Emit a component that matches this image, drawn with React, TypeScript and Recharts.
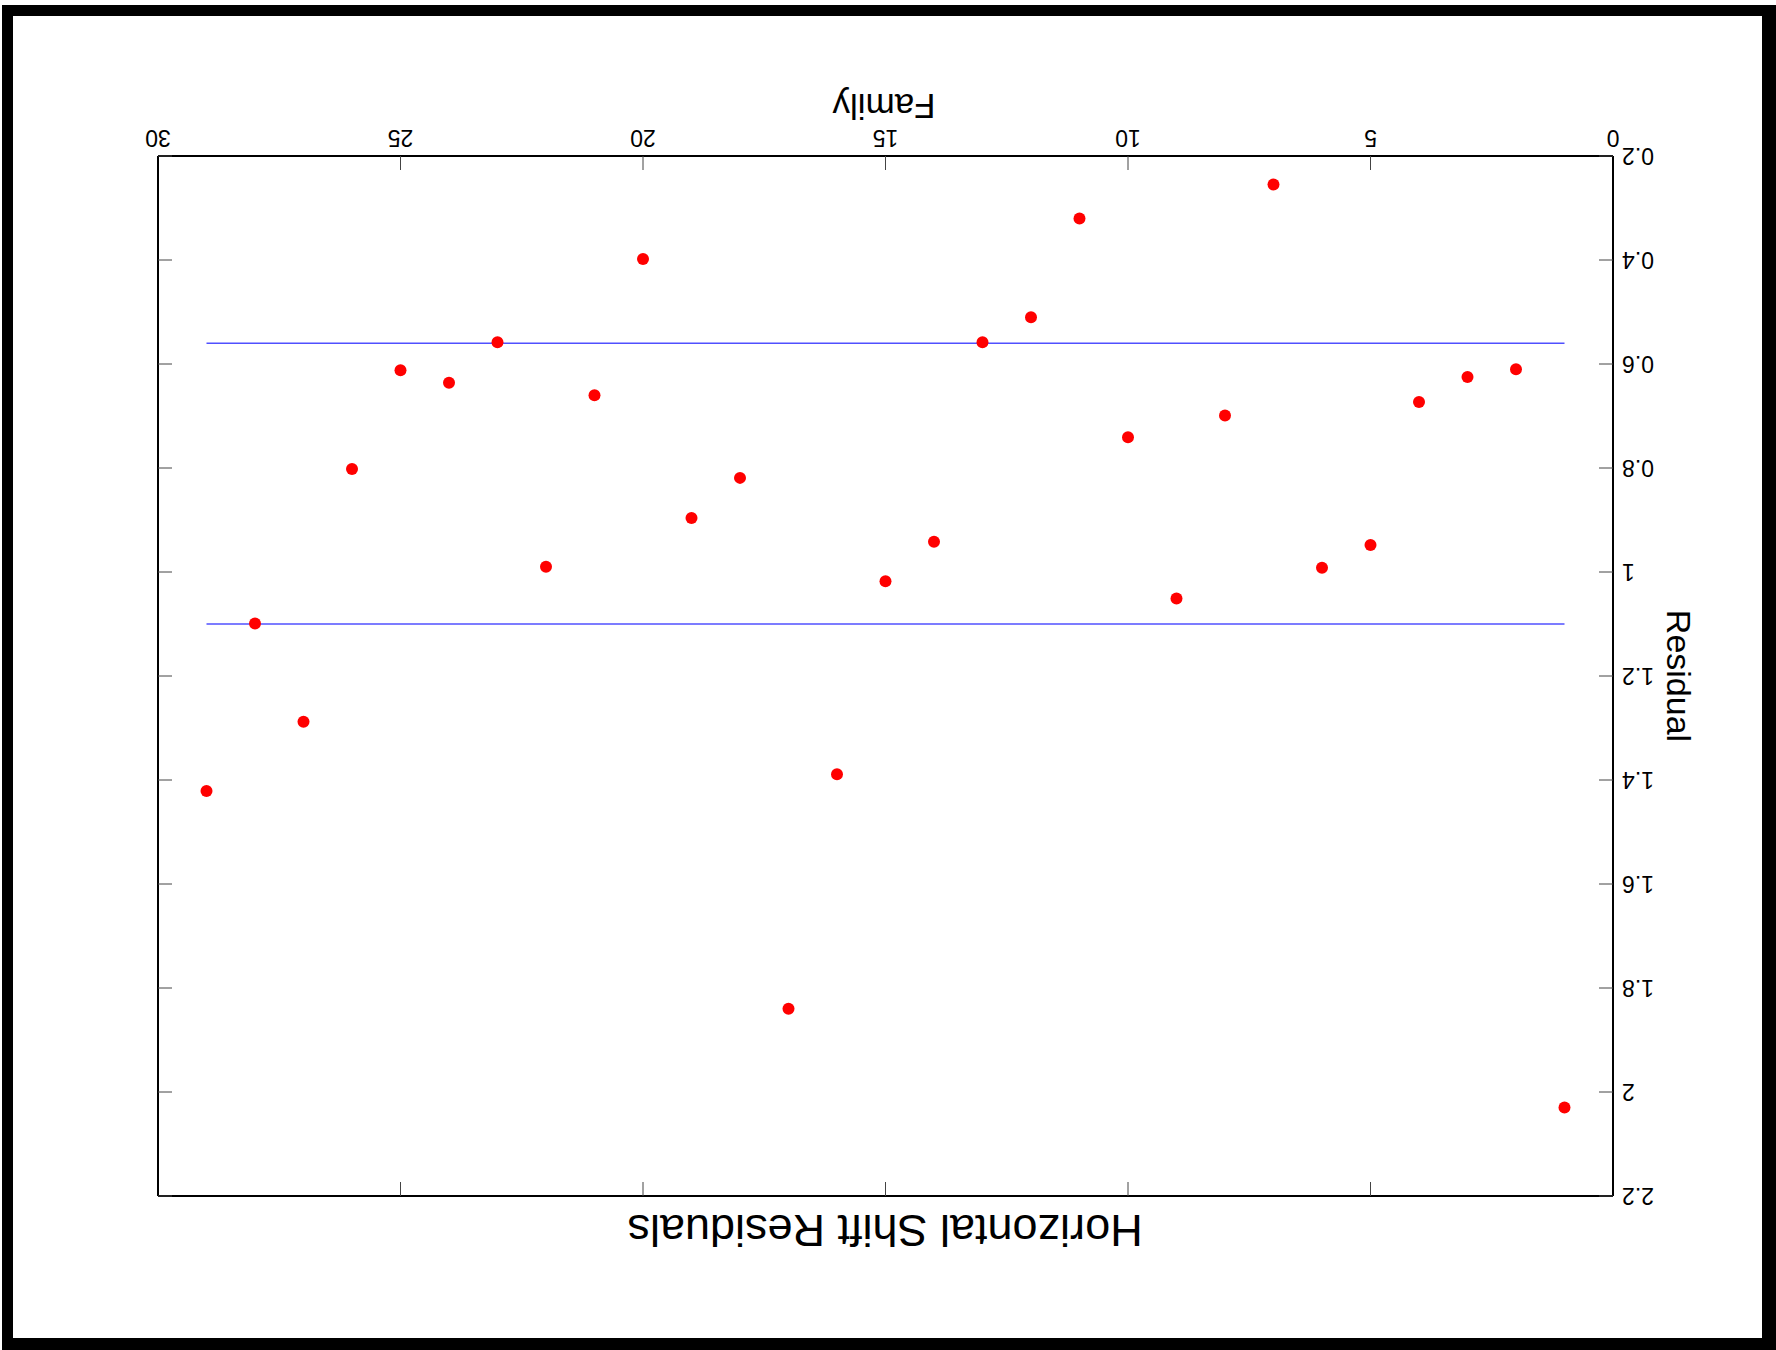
import { ScatterChart, Scatter, XAxis, YAxis, ReferenceLine } from 'recharts';

const familyIds = [
  1, 2, 3, 4, 5, 6, 7, 8, 9, 10, 11, 12, 13, 14, 15, 16, 17, 18, 19, 20, 21, 22, 23, 24, 25, 26, 27, 28, 29,
];
const residuals = [
  2.03, 0.61, 0.625, 0.673, 0.948, 0.992, 0.255, 0.699, 1.051, 0.741, 0.32, 0.51, 0.558, 0.942, 1.018,
  1.389, 1.84, 0.819, 0.896, 0.398, 0.66, 0.99, 0.558, 0.636, 0.612, 0.802, 1.288, 1.099, 1.421,
];
const xTicks = [0, 5, 10, 15, 20, 25, 30];
const yTicks = [0.2, 0.4, 0.6, 0.8, 1, 1.2, 1.4, 1.6, 1.8, 2, 2.2];
const limitLevels = [0.56, 1.1];
const limitRange = [1, 29];

const FONT = '"Liberation Sans", Arial, Helvetica, sans-serif';
const AXIS_LINE = { stroke: '#000', strokeWidth: 2 };
const TICK_LINE = { stroke: '#444', strokeWidth: 1 };
const TICK_STYLE = { fill: '#000', fontSize: 23, fontFamily: FONT };

const points = familyIds.map((f, i) => ({ family: f, residual: residuals[i] }));

const fmt = (v: number) => String(Number(v.toFixed(1)));
const noLabel = () => <g />;

export default function App() {
  return (
    <div
      style={{
        position: 'absolute',
        left: 0,
        top: 0,
        width: 1776,
        height: 1350,
        background: '#fff',
        transform: 'rotate(180deg)',
        fontFamily: FONT,
      }}
    >
      <div
        style={{
          position: 'absolute',
          left: 0,
          top: 0,
          width: 1774,
          height: 1345,
          boxSizing: 'border-box',
          borderStyle: 'solid',
          borderColor: '#000',
          borderLeftWidth: 14,
          borderRightWidth: 11,
          borderTopWidth: 12,
          borderBottomWidth: 11,
        }}
      />
      <div style={{ position: 'absolute', left: 0, top: 0 }}>
        <ScatterChart width={1776} height={1350} margin={{ top: 153, right: 157, left: 103, bottom: 116 }}>
          <XAxis
            dataKey="family"
            type="number"
            domain={[0, 30]}
            ticks={xTicks}
            height={40}
            tickSize={-14}
            tickMargin={24}
            axisLine={AXIS_LINE}
            tickLine={TICK_LINE}
            tick={TICK_STYLE}
            interval={0}
          />
          <XAxis
            xAxisId="top"
            dataKey="family"
            orientation="top"
            type="number"
            domain={[0, 30]}
            ticks={xTicks}
            height={1}
            tickSize={-14}
            axisLine={AXIS_LINE}
            tickLine={TICK_LINE}
            tick={noLabel}
            interval={0}
          />
          <YAxis
            dataKey="residual"
            type="number"
            domain={[0.2, 2.2]}
            ticks={yTicks}
            width={60}
            tickSize={-14}
            tickMargin={23}
            axisLine={AXIS_LINE}
            tickLine={TICK_LINE}
            tick={TICK_STYLE}
            tickFormatter={fmt}
            interval={0}
          />
          <YAxis
            yAxisId="right"
            dataKey="residual"
            orientation="right"
            type="number"
            domain={[0.2, 2.2]}
            ticks={yTicks}
            width={1}
            tickSize={-14}
            axisLine={AXIS_LINE}
            tickLine={TICK_LINE}
            tick={noLabel}
            interval={0}
          />
          {limitLevels.map((lv) => (
            <ReferenceLine
              key={lv}
              segment={[
                { x: limitRange[0], y: lv },
                { x: limitRange[1], y: lv },
              ]}
              stroke="#5050ff"
              strokeWidth={1.5}
            />
          ))}
          {/* invisible copy so the mirrored frame axes get drawn */}
          <Scatter
            data={points}
            xAxisId="top"
            yAxisId="right"
            isAnimationActive={false}
            shape={() => <g />}
          />
          <Scatter
            data={points}
            isAnimationActive={false}
            shape={(p: any) => <circle cx={p.cx} cy={p.cy} r={6} fill="#ff0000" />}
          />
        </ScatterChart>
      </div>
      <div
        style={{
          position: 'absolute',
          left: 891,
          top: 97,
          transform: 'translateX(-50%)',
          fontSize: 45,
          lineHeight: 1,
          whiteSpace: 'nowrap',
          color: '#000',
        }}
      >
        Horizontal Shift Residuals
      </div>
      <div
        style={{
          position: 'absolute',
          left: 892,
          top: 1226,
          transform: 'translateX(-50%)',
          fontSize: 35,
          lineHeight: 1,
          whiteSpace: 'nowrap',
          color: '#000',
        }}
      >
        Family
      </div>
      <div
        style={{
          position: 'absolute',
          left: 97,
          top: 674,
          transform: 'translate(-50%, -50%) rotate(-90deg)',
          fontSize: 34,
          lineHeight: 1,
          whiteSpace: 'nowrap',
          color: '#000',
        }}
      >
        Residual
      </div>
    </div>
  );
}
